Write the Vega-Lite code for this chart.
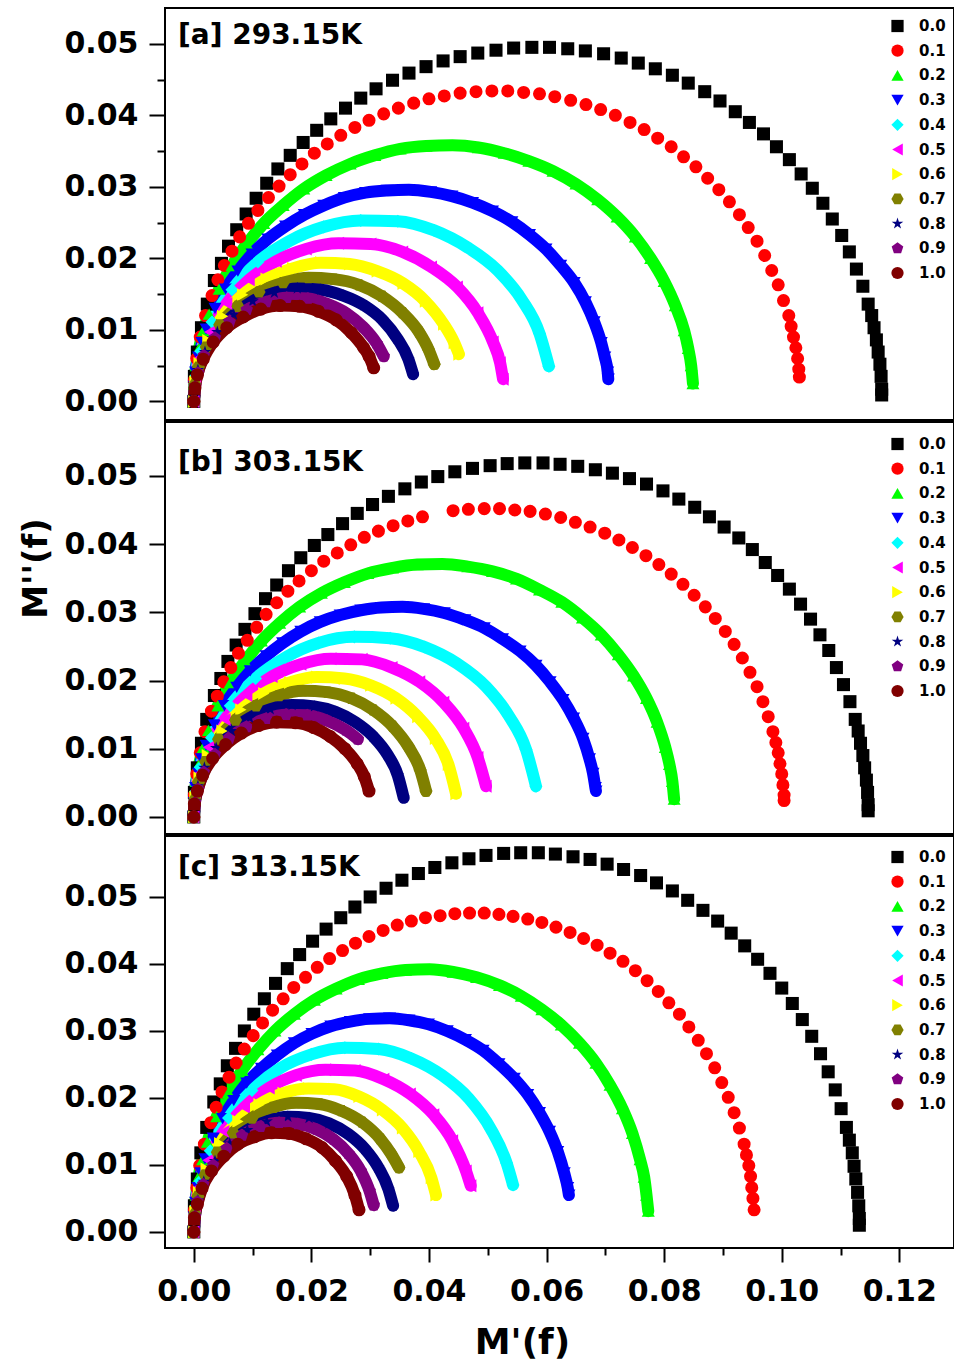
{
"$schema":"https://vega.github.io/schema/vega-lite/v6.json",
"padding":{"left":18,"top":7,"right":0,"bottom":0},
"background":"white",
"config":{"view":{"stroke":"black","strokeWidth":2},
"axis":{"domain":false,"grid":false,"tickColor":"black","tickWidth":2,"labelFont":"DejaVu Sans","labelFontSize":30,"labelFontWeight":"bold","labelColor":"black","labelOverlap":false,"labelFlush":false,"labelBound":false,"titleFont":"DejaVu Sans","titleFontWeight":"bold","titleColor":"black"},
"legend":{"padding":0,"symbolSize":150,"symbolStrokeWidth":0,"symbolOpacity":1,"labelFont":"DejaVu Sans","labelFontSize":15,"labelFontWeight":"bold","labelColor":"black","labelOffset":14,"rowPadding":8.7}},
"datasets":{
"a":[
{"s":"0.0","x":0,"y":0},{"s":"0.0","x":0.0001,"y":0.0035},{"s":"0.0","x":0.0006,"y":0.0069},{"s":"0.0","x":0.0013,"y":0.0103},{"s":"0.0","x":0.0023,"y":0.0136},{"s":"0.0","x":0.0035,"y":0.0169},{"s":"0.0","x":0.0047,"y":0.0193},{"s":"0.0","x":0.0059,"y":0.0217},{"s":"0.0","x":0.0073,"y":0.024},{"s":"0.0","x":0.0089,"y":0.0262},{"s":"0.0","x":0.0106,"y":0.0284},{"s":"0.0","x":0.0124,"y":0.0305},{"s":"0.0","x":0.0143,"y":0.0325},{"s":"0.0","x":0.0164,"y":0.0344},{"s":"0.0","x":0.0186,"y":0.0362},{"s":"0.0","x":0.0209,"y":0.0379},{"s":"0.0","x":0.0233,"y":0.0395},{"s":"0.0","x":0.0258,"y":0.041},{"s":"0.0","x":0.0284,"y":0.0424},{"s":"0.0","x":0.031,"y":0.0437},{"s":"0.0","x":0.0338,"y":0.0449},{"s":"0.0","x":0.0366,"y":0.0459},{"s":"0.0","x":0.0395,"y":0.0468},{"s":"0.0","x":0.0424,"y":0.0476},{"s":"0.0","x":0.0453,"y":0.0482},{"s":"0.0","x":0.0483,"y":0.0487},{"s":"0.0","x":0.0514,"y":0.0491},{"s":"0.0","x":0.0544,"y":0.0494},{"s":"0.0","x":0.0575,"y":0.0495},{"s":"0.0","x":0.0605,"y":0.0495},{"s":"0.0","x":0.0636,"y":0.0493},{"s":"0.0","x":0.0666,"y":0.049},{"s":"0.0","x":0.0697,"y":0.0486},{"s":"0.0","x":0.0727,"y":0.048},{"s":"0.0","x":0.0756,"y":0.0473},{"s":"0.0","x":0.0785,"y":0.0465},{"s":"0.0","x":0.0814,"y":0.0456},{"s":"0.0","x":0.0841,"y":0.0445},{"s":"0.0","x":0.0869,"y":0.0433},{"s":"0.0","x":0.0895,"y":0.042},{"s":"0.0","x":0.0921,"y":0.0405},{"s":"0.0","x":0.0945,"y":0.039},{"s":"0.0","x":0.0969,"y":0.0374},{"s":"0.0","x":0.0991,"y":0.0356},{"s":"0.0","x":0.1013,"y":0.0338},{"s":"0.0","x":0.1033,"y":0.0318},{"s":"0.0","x":0.1052,"y":0.0298},{"s":"0.0","x":0.107,"y":0.0277},{"s":"0.0","x":0.1086,"y":0.0255},{"s":"0.0","x":0.1102,"y":0.0232},{"s":"0.0","x":0.1115,"y":0.0209},{"s":"0.0","x":0.1127,"y":0.0185},{"s":"0.0","x":0.1138,"y":0.0161},{"s":"0.0","x":0.1147,"y":0.0136},{"s":"0.0","x":0.1153,"y":0.012},{"s":"0.0","x":0.1157,"y":0.0103},{"s":"0.0","x":0.1161,"y":0.0086},{"s":"0.0","x":0.1164,"y":0.0069},{"s":"0.0","x":0.1167,"y":0.0052},{"s":"0.0","x":0.1169,"y":0.0035},{"s":"0.0","x":0.117,"y":0.0017},{"s":"0.0","x":0.117,"y":0.0009},
{"s":"0.1","x":0,"y":0},{"s":"0.1","x":0.0001,"y":0.003},{"s":"0.1","x":0.0005,"y":0.006},{"s":"0.1","x":0.0011,"y":0.009},{"s":"0.1","x":0.002,"y":0.012},{"s":"0.1","x":0.0031,"y":0.0148},{"s":"0.1","x":0.0041,"y":0.017},{"s":"0.1","x":0.0052,"y":0.019},{"s":"0.1","x":0.0065,"y":0.021},{"s":"0.1","x":0.0078,"y":0.023},{"s":"0.1","x":0.0093,"y":0.0249},{"s":"0.1","x":0.0109,"y":0.0267},{"s":"0.1","x":0.0127,"y":0.0285},{"s":"0.1","x":0.0145,"y":0.0301},{"s":"0.1","x":0.0164,"y":0.0317},{"s":"0.1","x":0.0184,"y":0.0332},{"s":"0.1","x":0.0205,"y":0.0347},{"s":"0.1","x":0.0227,"y":0.036},{"s":"0.1","x":0.025,"y":0.0372},{"s":"0.1","x":0.0274,"y":0.0383},{"s":"0.1","x":0.0298,"y":0.0393},{"s":"0.1","x":0.0323,"y":0.0402},{"s":"0.1","x":0.0348,"y":0.041},{"s":"0.1","x":0.0374,"y":0.0417},{"s":"0.1","x":0.04,"y":0.0423},{"s":"0.1","x":0.0426,"y":0.0427},{"s":"0.1","x":0.0453,"y":0.0431},{"s":"0.1","x":0.048,"y":0.0433},{"s":"0.1","x":0.0507,"y":0.0434},{"s":"0.1","x":0.0534,"y":0.0434},{"s":"0.1","x":0.0561,"y":0.0432},{"s":"0.1","x":0.0588,"y":0.043},{"s":"0.1","x":0.0614,"y":0.0426},{"s":"0.1","x":0.0641,"y":0.0421},{"s":"0.1","x":0.0667,"y":0.0415},{"s":"0.1","x":0.0692,"y":0.0408},{"s":"0.1","x":0.0717,"y":0.04},{"s":"0.1","x":0.0742,"y":0.039},{"s":"0.1","x":0.0766,"y":0.038},{"s":"0.1","x":0.0789,"y":0.0368},{"s":"0.1","x":0.0812,"y":0.0356},{"s":"0.1","x":0.0833,"y":0.0342},{"s":"0.1","x":0.0854,"y":0.0328},{"s":"0.1","x":0.0874,"y":0.0312},{"s":"0.1","x":0.0893,"y":0.0296},{"s":"0.1","x":0.0911,"y":0.0279},{"s":"0.1","x":0.0928,"y":0.0261},{"s":"0.1","x":0.0943,"y":0.0243},{"s":"0.1","x":0.0958,"y":0.0224},{"s":"0.1","x":0.0971,"y":0.0204},{"s":"0.1","x":0.0983,"y":0.0183},{"s":"0.1","x":0.0994,"y":0.0163},{"s":"0.1","x":0.1003,"y":0.0141},{"s":"0.1","x":0.1012,"y":0.012},{"s":"0.1","x":0.1016,"y":0.0105},{"s":"0.1","x":0.102,"y":0.009},{"s":"0.1","x":0.1024,"y":0.0075},{"s":"0.1","x":0.1027,"y":0.006},{"s":"0.1","x":0.1029,"y":0.0045},{"s":"0.1","x":0.103,"y":0.0034},
{"s":"0.2","x":0,"y":0},{"s":"0.2","x":0.0001,"y":0.0025},{"s":"0.2","x":0.0004,"y":0.005},{"s":"0.2","x":0.0009,"y":0.0074},{"s":"0.2","x":0.0016,"y":0.0099},{"s":"0.2","x":0.0026,"y":0.0122},{"s":"0.2","x":0.0043,"y":0.0157},{"s":"0.2","x":0.0065,"y":0.019},{"s":"0.2","x":0.009,"y":0.022},{"s":"0.2","x":0.0119,"y":0.0249},{"s":"0.2","x":0.0152,"y":0.0274},{"s":"0.2","x":0.0187,"y":0.0297},{"s":"0.2","x":0.0225,"y":0.0316},{"s":"0.2","x":0.0266,"y":0.0332},{"s":"0.2","x":0.0308,"y":0.0344},{"s":"0.2","x":0.0351,"y":0.0353},{"s":"0.2","x":0.0395,"y":0.0357},{"s":"0.2","x":0.044,"y":0.0358},{"s":"0.2","x":0.0484,"y":0.0355},{"s":"0.2","x":0.0528,"y":0.0347},{"s":"0.2","x":0.057,"y":0.0336},{"s":"0.2","x":0.0611,"y":0.0322},{"s":"0.2","x":0.065,"y":0.0304},{"s":"0.2","x":0.0687,"y":0.0282},{"s":"0.2","x":0.072,"y":0.0258},{"s":"0.2","x":0.0751,"y":0.023},{"s":"0.2","x":0.0777,"y":0.02},{"s":"0.2","x":0.08,"y":0.0168},{"s":"0.2","x":0.0819,"y":0.0134},{"s":"0.2","x":0.0834,"y":0.0099},{"s":"0.2","x":0.0841,"y":0.0074},{"s":"0.2","x":0.0846,"y":0.005},{"s":"0.2","x":0.0849,"y":0.0025},
{"s":"0.3","x":0,"y":0},{"s":"0.3","x":0.0001,"y":0.0021},{"s":"0.3","x":0.0003,"y":0.0041},{"s":"0.3","x":0.0008,"y":0.0062},{"s":"0.3","x":0.0014,"y":0.0082},{"s":"0.3","x":0.0021,"y":0.0101},{"s":"0.3","x":0.0036,"y":0.013},{"s":"0.3","x":0.0054,"y":0.0157},{"s":"0.3","x":0.0075,"y":0.0182},{"s":"0.3","x":0.0099,"y":0.0206},{"s":"0.3","x":0.0126,"y":0.0227},{"s":"0.3","x":0.0156,"y":0.0245},{"s":"0.3","x":0.0188,"y":0.0261},{"s":"0.3","x":0.0221,"y":0.0274},{"s":"0.3","x":0.0256,"y":0.0285},{"s":"0.3","x":0.0292,"y":0.0292},{"s":"0.3","x":0.0329,"y":0.0295},{"s":"0.3","x":0.0366,"y":0.0296},{"s":"0.3","x":0.0403,"y":0.0293},{"s":"0.3","x":0.0439,"y":0.0287},{"s":"0.3","x":0.0474,"y":0.0278},{"s":"0.3","x":0.0508,"y":0.0266},{"s":"0.3","x":0.0541,"y":0.0251},{"s":"0.3","x":0.0571,"y":0.0233},{"s":"0.3","x":0.0599,"y":0.0213},{"s":"0.3","x":0.0624,"y":0.019},{"s":"0.3","x":0.0647,"y":0.0166},{"s":"0.3","x":0.0666,"y":0.0139},{"s":"0.3","x":0.0681,"y":0.0111},{"s":"0.3","x":0.0693,"y":0.0082},{"s":"0.3","x":0.0699,"y":0.0062},{"s":"0.3","x":0.0704,"y":0.0041},{"s":"0.3","x":0.0705,"y":0.0031},
{"s":"0.4","x":0,"y":0},{"s":"0.4","x":0.0003,"y":0.0035},{"s":"0.4","x":0.0012,"y":0.007},{"s":"0.4","x":0.0031,"y":0.0111},{"s":"0.4","x":0.0065,"y":0.0156},{"s":"0.4","x":0.0109,"y":0.0195},{"s":"0.4","x":0.0162,"y":0.0224},{"s":"0.4","x":0.0221,"y":0.0244},{"s":"0.4","x":0.0284,"y":0.0253},{"s":"0.4","x":0.0347,"y":0.0252},{"s":"0.4","x":0.0409,"y":0.0239},{"s":"0.4","x":0.0466,"y":0.0215},{"s":"0.4","x":0.0517,"y":0.0183},{"s":"0.4","x":0.0558,"y":0.0142},{"s":"0.4","x":0.0588,"y":0.0095},{"s":"0.4","x":0.0604,"y":0.0049},
{"s":"0.5","x":0,"y":0},{"s":"0.5","x":0.0003,"y":0.0031},{"s":"0.5","x":0.001,"y":0.0061},{"s":"0.5","x":0.0027,"y":0.0097},{"s":"0.5","x":0.0056,"y":0.0137},{"s":"0.5","x":0.0094,"y":0.017},{"s":"0.5","x":0.014,"y":0.0196},{"s":"0.5","x":0.0191,"y":0.0213},{"s":"0.5","x":0.0246,"y":0.0221},{"s":"0.5","x":0.0301,"y":0.022},{"s":"0.5","x":0.0355,"y":0.0209},{"s":"0.5","x":0.0404,"y":0.0188},{"s":"0.5","x":0.0448,"y":0.016},{"s":"0.5","x":0.0483,"y":0.0124},{"s":"0.5","x":0.0509,"y":0.0083},{"s":"0.5","x":0.0521,"y":0.0054},{"s":"0.5","x":0.0526,"y":0.0031},
{"s":"0.6","x":0,"y":0},{"s":"0.6","x":0.0002,"y":0.0027},{"s":"0.6","x":0.0009,"y":0.0053},{"s":"0.6","x":0.0024,"y":0.0085},{"s":"0.6","x":0.0049,"y":0.0119},{"s":"0.6","x":0.0083,"y":0.0149},{"s":"0.6","x":0.0123,"y":0.0171},{"s":"0.6","x":0.0168,"y":0.0186},{"s":"0.6","x":0.0216,"y":0.0194},{"s":"0.6","x":0.0265,"y":0.0192},{"s":"0.6","x":0.0312,"y":0.0182},{"s":"0.6","x":0.0356,"y":0.0165},{"s":"0.6","x":0.0394,"y":0.014},{"s":"0.6","x":0.0425,"y":0.0108},{"s":"0.6","x":0.0443,"y":0.0082},{"s":"0.6","x":0.0451,"y":0.0066},
{"s":"0.7","x":0,"y":0},{"s":"0.7","x":0.0002,"y":0.0024},{"s":"0.7","x":0.0008,"y":0.0048},{"s":"0.7","x":0.0021,"y":0.0076},{"s":"0.7","x":0.0044,"y":0.0107},{"s":"0.7","x":0.0075,"y":0.0133},{"s":"0.7","x":0.0111,"y":0.0153},{"s":"0.7","x":0.0152,"y":0.0166},{"s":"0.7","x":0.0195,"y":0.0173},{"s":"0.7","x":0.0238,"y":0.0171},{"s":"0.7","x":0.0281,"y":0.0163},{"s":"0.7","x":0.032,"y":0.0147},{"s":"0.7","x":0.0355,"y":0.0124},{"s":"0.7","x":0.0383,"y":0.0097},{"s":"0.7","x":0.0399,"y":0.0073},{"s":"0.7","x":0.0409,"y":0.0052},
{"s":"0.8","x":0,"y":0},{"s":"0.8","x":0.0002,"y":0.0022},{"s":"0.8","x":0.0007,"y":0.0044},{"s":"0.8","x":0.0019,"y":0.0069},{"s":"0.8","x":0.004,"y":0.0097},{"s":"0.8","x":0.0068,"y":0.0121},{"s":"0.8","x":0.01,"y":0.014},{"s":"0.8","x":0.0137,"y":0.0152},{"s":"0.8","x":0.0176,"y":0.0158},{"s":"0.8","x":0.0216,"y":0.0156},{"s":"0.8","x":0.0254,"y":0.0148},{"s":"0.8","x":0.029,"y":0.0134},{"s":"0.8","x":0.0321,"y":0.0114},{"s":"0.8","x":0.0346,"y":0.0088},{"s":"0.8","x":0.0365,"y":0.0059},{"s":"0.8","x":0.0373,"y":0.0038},
{"s":"0.9","x":0,"y":0},{"s":"0.9","x":0.0002,"y":0.002},{"s":"0.9","x":0.0007,"y":0.004},{"s":"0.9","x":0.0017,"y":0.0064},{"s":"0.9","x":0.0036,"y":0.0089},{"s":"0.9","x":0.0061,"y":0.0111},{"s":"0.9","x":0.009,"y":0.0128},{"s":"0.9","x":0.0123,"y":0.0139},{"s":"0.9","x":0.0158,"y":0.0145},{"s":"0.9","x":0.0194,"y":0.0144},{"s":"0.9","x":0.0228,"y":0.0136},{"s":"0.9","x":0.026,"y":0.0123},{"s":"0.9","x":0.0288,"y":0.0104},{"s":"0.9","x":0.0311,"y":0.0081},{"s":"0.9","x":0.0323,"y":0.0063},
{"s":"1.0","x":0,"y":0},{"s":"1.0","x":0.0002,"y":0.0019},{"s":"1.0","x":0.0006,"y":0.0037},{"s":"1.0","x":0.0016,"y":0.0059},{"s":"1.0","x":0.0033,"y":0.0083},{"s":"1.0","x":0.0056,"y":0.0103},{"s":"1.0","x":0.0084,"y":0.0118},{"s":"1.0","x":0.0114,"y":0.0129},{"s":"1.0","x":0.0147,"y":0.0134},{"s":"1.0","x":0.018,"y":0.0133},{"s":"1.0","x":0.0212,"y":0.0126},{"s":"1.0","x":0.0242,"y":0.0114},{"s":"1.0","x":0.0268,"y":0.0096},{"s":"1.0","x":0.0289,"y":0.0075},{"s":"1.0","x":0.0298,"y":0.0063},{"s":"1.0","x":0.0306,"y":0.0047}
],
"b":[
{"s":"0.0","x":0,"y":0},{"s":"0.0","x":0.0001,"y":0.0036},{"s":"0.0","x":0.0006,"y":0.0072},{"s":"0.0","x":0.0013,"y":0.0108},{"s":"0.0","x":0.0022,"y":0.0143},{"s":"0.0","x":0.0035,"y":0.0178},{"s":"0.0","x":0.0046,"y":0.0203},{"s":"0.0","x":0.0058,"y":0.0228},{"s":"0.0","x":0.0072,"y":0.0252},{"s":"0.0","x":0.0087,"y":0.0275},{"s":"0.0","x":0.0104,"y":0.0298},{"s":"0.0","x":0.0122,"y":0.032},{"s":"0.0","x":0.0141,"y":0.034},{"s":"0.0","x":0.0161,"y":0.0361},{"s":"0.0","x":0.0182,"y":0.038},{"s":"0.0","x":0.0205,"y":0.0398},{"s":"0.0","x":0.0228,"y":0.0414},{"s":"0.0","x":0.0253,"y":0.043},{"s":"0.0","x":0.0278,"y":0.0445},{"s":"0.0","x":0.0304,"y":0.0458},{"s":"0.0","x":0.0331,"y":0.047},{"s":"0.0","x":0.0359,"y":0.0481},{"s":"0.0","x":0.0387,"y":0.0491},{"s":"0.0","x":0.0415,"y":0.0499},{"s":"0.0","x":0.0444,"y":0.0506},{"s":"0.0","x":0.0474,"y":0.0511},{"s":"0.0","x":0.0504,"y":0.0515},{"s":"0.0","x":0.0533,"y":0.0518},{"s":"0.0","x":0.0563,"y":0.0519},{"s":"0.0","x":0.0594,"y":0.0519},{"s":"0.0","x":0.0623,"y":0.0517},{"s":"0.0","x":0.0653,"y":0.0514},{"s":"0.0","x":0.0683,"y":0.0509},{"s":"0.0","x":0.0712,"y":0.0504},{"s":"0.0","x":0.0741,"y":0.0496},{"s":"0.0","x":0.077,"y":0.0488},{"s":"0.0","x":0.0798,"y":0.0478},{"s":"0.0","x":0.0825,"y":0.0466},{"s":"0.0","x":0.0852,"y":0.0454},{"s":"0.0","x":0.0877,"y":0.044},{"s":"0.0","x":0.0902,"y":0.0425},{"s":"0.0","x":0.0927,"y":0.0409},{"s":"0.0","x":0.095,"y":0.0392},{"s":"0.0","x":0.0972,"y":0.0373},{"s":"0.0","x":0.0993,"y":0.0354},{"s":"0.0","x":0.1013,"y":0.0334},{"s":"0.0","x":0.1032,"y":0.0312},{"s":"0.0","x":0.1049,"y":0.029},{"s":"0.0","x":0.1065,"y":0.0267},{"s":"0.0","x":0.108,"y":0.0244},{"s":"0.0","x":0.1093,"y":0.0219},{"s":"0.0","x":0.1105,"y":0.0194},{"s":"0.0","x":0.1116,"y":0.0169},{"s":"0.0","x":0.1125,"y":0.0143},{"s":"0.0","x":0.113,"y":0.0126},{"s":"0.0","x":0.1134,"y":0.0108},{"s":"0.0","x":0.1138,"y":0.009},{"s":"0.0","x":0.1141,"y":0.0072},{"s":"0.0","x":0.1144,"y":0.0054},{"s":"0.0","x":0.1146,"y":0.0036},{"s":"0.0","x":0.1147,"y":0.0018},{"s":"0.0","x":0.1147,"y":0.0009},
{"s":"0.1","x":0,"y":0},{"s":"0.1","x":0.0001,"y":0.0032},{"s":"0.1","x":0.0005,"y":0.0063},{"s":"0.1","x":0.0011,"y":0.0094},{"s":"0.1","x":0.0019,"y":0.0125},{"s":"0.1","x":0.003,"y":0.0155},{"s":"0.1","x":0.004,"y":0.0177},{"s":"0.1","x":0.0051,"y":0.0198},{"s":"0.1","x":0.0063,"y":0.0219},{"s":"0.1","x":0.0076,"y":0.024},{"s":"0.1","x":0.0091,"y":0.0259},{"s":"0.1","x":0.0107,"y":0.0278},{"s":"0.1","x":0.0123,"y":0.0297},{"s":"0.1","x":0.0141,"y":0.0314},{"s":"0.1","x":0.016,"y":0.0331},{"s":"0.1","x":0.0179,"y":0.0346},{"s":"0.1","x":0.02,"y":0.0361},{"s":"0.1","x":0.0221,"y":0.0375},{"s":"0.1","x":0.0244,"y":0.0387},{"s":"0.1","x":0.0267,"y":0.0399},{"s":"0.1","x":0.029,"y":0.041},{"s":"0.1","x":0.0314,"y":0.0419},{"s":"0.1","x":0.0339,"y":0.0427},{"s":"0.1","x":0.0364,"y":0.0434},{"s":"0.1","x":0.0389,"y":0.044},{"s":"0.1","x":0.0441,"y":0.0449},{"s":"0.1","x":0.0467,"y":0.0451},{"s":"0.1","x":0.0494,"y":0.0452},{"s":"0.1","x":0.052,"y":0.0452},{"s":"0.1","x":0.0546,"y":0.045},{"s":"0.1","x":0.0572,"y":0.0448},{"s":"0.1","x":0.0598,"y":0.0444},{"s":"0.1","x":0.0624,"y":0.0439},{"s":"0.1","x":0.0649,"y":0.0432},{"s":"0.1","x":0.0674,"y":0.0425},{"s":"0.1","x":0.0699,"y":0.0416},{"s":"0.1","x":0.0723,"y":0.0406},{"s":"0.1","x":0.0746,"y":0.0395},{"s":"0.1","x":0.0769,"y":0.0383},{"s":"0.1","x":0.0791,"y":0.037},{"s":"0.1","x":0.0812,"y":0.0356},{"s":"0.1","x":0.0832,"y":0.0341},{"s":"0.1","x":0.0851,"y":0.0325},{"s":"0.1","x":0.087,"y":0.0308},{"s":"0.1","x":0.0887,"y":0.0291},{"s":"0.1","x":0.0904,"y":0.0272},{"s":"0.1","x":0.0919,"y":0.0253},{"s":"0.1","x":0.0933,"y":0.0233},{"s":"0.1","x":0.0946,"y":0.0212},{"s":"0.1","x":0.0958,"y":0.0191},{"s":"0.1","x":0.0968,"y":0.0169},{"s":"0.1","x":0.0977,"y":0.0147},{"s":"0.1","x":0.0985,"y":0.0125},{"s":"0.1","x":0.099,"y":0.0109},{"s":"0.1","x":0.0994,"y":0.0094},{"s":"0.1","x":0.0997,"y":0.0078},{"s":"0.1","x":0.1,"y":0.0063},{"s":"0.1","x":0.1002,"y":0.0047},{"s":"0.1","x":0.1004,"y":0.0032},{"s":"0.1","x":0.1004,"y":0.0024},
{"s":"0.2","x":0,"y":0},{"s":"0.2","x":0.0001,"y":0.0026},{"s":"0.2","x":0.0004,"y":0.0052},{"s":"0.2","x":0.0009,"y":0.0077},{"s":"0.2","x":0.0016,"y":0.0102},{"s":"0.2","x":0.0025,"y":0.0127},{"s":"0.2","x":0.0041,"y":0.0163},{"s":"0.2","x":0.0062,"y":0.0197},{"s":"0.2","x":0.0087,"y":0.0228},{"s":"0.2","x":0.0115,"y":0.0258},{"s":"0.2","x":0.0146,"y":0.0284},{"s":"0.2","x":0.018,"y":0.0308},{"s":"0.2","x":0.0217,"y":0.0328},{"s":"0.2","x":0.0256,"y":0.0344},{"s":"0.2","x":0.0296,"y":0.0357},{"s":"0.2","x":0.0338,"y":0.0365},{"s":"0.2","x":0.038,"y":0.037},{"s":"0.2","x":0.0423,"y":0.0371},{"s":"0.2","x":0.0466,"y":0.0367},{"s":"0.2","x":0.0508,"y":0.036},{"s":"0.2","x":0.0549,"y":0.0349},{"s":"0.2","x":0.0588,"y":0.0333},{"s":"0.2","x":0.0626,"y":0.0315},{"s":"0.2","x":0.0661,"y":0.0292},{"s":"0.2","x":0.0693,"y":0.0267},{"s":"0.2","x":0.0722,"y":0.0238},{"s":"0.2","x":0.0748,"y":0.0207},{"s":"0.2","x":0.077,"y":0.0174},{"s":"0.2","x":0.0788,"y":0.0139},{"s":"0.2","x":0.0802,"y":0.0102},{"s":"0.2","x":0.0809,"y":0.0077},{"s":"0.2","x":0.0814,"y":0.0052},{"s":"0.2","x":0.0817,"y":0.0026},
{"s":"0.3","x":0,"y":0},{"s":"0.3","x":0.0001,"y":0.0021},{"s":"0.3","x":0.0003,"y":0.0043},{"s":"0.3","x":0.0008,"y":0.0064},{"s":"0.3","x":0.0013,"y":0.0085},{"s":"0.3","x":0.0021,"y":0.0105},{"s":"0.3","x":0.0035,"y":0.0135},{"s":"0.3","x":0.0052,"y":0.0163},{"s":"0.3","x":0.0073,"y":0.019},{"s":"0.3","x":0.0096,"y":0.0214},{"s":"0.3","x":0.0123,"y":0.0236},{"s":"0.3","x":0.0151,"y":0.0255},{"s":"0.3","x":0.0182,"y":0.0272},{"s":"0.3","x":0.0215,"y":0.0286},{"s":"0.3","x":0.0249,"y":0.0296},{"s":"0.3","x":0.0284,"y":0.0303},{"s":"0.3","x":0.0319,"y":0.0307},{"s":"0.3","x":0.0355,"y":0.0308},{"s":"0.3","x":0.0391,"y":0.0305},{"s":"0.3","x":0.0426,"y":0.0299},{"s":"0.3","x":0.0461,"y":0.0289},{"s":"0.3","x":0.0494,"y":0.0277},{"s":"0.3","x":0.0525,"y":0.0261},{"s":"0.3","x":0.0555,"y":0.0243},{"s":"0.3","x":0.0582,"y":0.0222},{"s":"0.3","x":0.0606,"y":0.0198},{"s":"0.3","x":0.0628,"y":0.0172},{"s":"0.3","x":0.0646,"y":0.0145},{"s":"0.3","x":0.0662,"y":0.0115},{"s":"0.3","x":0.0673,"y":0.0085},{"s":"0.3","x":0.0679,"y":0.0064},{"s":"0.3","x":0.0683,"y":0.0043},{"s":"0.3","x":0.0684,"y":0.0038},
{"s":"0.4","x":0,"y":0},{"s":"0.4","x":0.0003,"y":0.0037},{"s":"0.4","x":0.0011,"y":0.0073},{"s":"0.4","x":0.003,"y":0.0116},{"s":"0.4","x":0.0062,"y":0.0163},{"s":"0.4","x":0.0105,"y":0.0203},{"s":"0.4","x":0.0156,"y":0.0234},{"s":"0.4","x":0.0212,"y":0.0255},{"s":"0.4","x":0.0273,"y":0.0264},{"s":"0.4","x":0.0334,"y":0.0262},{"s":"0.4","x":0.0393,"y":0.0249},{"s":"0.4","x":0.0448,"y":0.0225},{"s":"0.4","x":0.0497,"y":0.0191},{"s":"0.4","x":0.0536,"y":0.0148},{"s":"0.4","x":0.0565,"y":0.0099},{"s":"0.4","x":0.0582,"y":0.0045},
{"s":"0.5","x":0,"y":0},{"s":"0.5","x":0.0002,"y":0.0032},{"s":"0.5","x":0.001,"y":0.0064},{"s":"0.5","x":0.0025,"y":0.0102},{"s":"0.5","x":0.0053,"y":0.0143},{"s":"0.5","x":0.009,"y":0.0178},{"s":"0.5","x":0.0133,"y":0.0206},{"s":"0.5","x":0.0182,"y":0.0224},{"s":"0.5","x":0.0233,"y":0.0232},{"s":"0.5","x":0.0286,"y":0.0231},{"s":"0.5","x":0.0337,"y":0.0219},{"s":"0.5","x":0.0384,"y":0.0198},{"s":"0.5","x":0.0425,"y":0.0168},{"s":"0.5","x":0.0459,"y":0.013},{"s":"0.5","x":0.0483,"y":0.0087},{"s":"0.5","x":0.0497,"y":0.0045},
{"s":"0.6","x":0,"y":0},{"s":"0.6","x":0.0002,"y":0.0029},{"s":"0.6","x":0.0009,"y":0.0057},{"s":"0.6","x":0.0023,"y":0.009},{"s":"0.6","x":0.0048,"y":0.0126},{"s":"0.6","x":0.008,"y":0.0157},{"s":"0.6","x":0.0119,"y":0.0181},{"s":"0.6","x":0.0163,"y":0.0197},{"s":"0.6","x":0.0209,"y":0.0205},{"s":"0.6","x":0.0256,"y":0.0203},{"s":"0.6","x":0.0301,"y":0.0193},{"s":"0.6","x":0.0344,"y":0.0174},{"s":"0.6","x":0.0381,"y":0.0147},{"s":"0.6","x":0.0411,"y":0.0115},{"s":"0.6","x":0.0433,"y":0.0077},{"s":"0.6","x":0.0446,"y":0.0034},
{"s":"0.7","x":0,"y":0},{"s":"0.7","x":0.0002,"y":0.0026},{"s":"0.7","x":0.0008,"y":0.0051},{"s":"0.7","x":0.002,"y":0.0081},{"s":"0.7","x":0.0042,"y":0.0114},{"s":"0.7","x":0.0071,"y":0.0142},{"s":"0.7","x":0.0106,"y":0.0163},{"s":"0.7","x":0.0145,"y":0.0178},{"s":"0.7","x":0.0186,"y":0.0185},{"s":"0.7","x":0.0227,"y":0.0183},{"s":"0.7","x":0.0268,"y":0.0174},{"s":"0.7","x":0.0305,"y":0.0157},{"s":"0.7","x":0.0338,"y":0.0133},{"s":"0.7","x":0.0365,"y":0.0103},{"s":"0.7","x":0.0385,"y":0.0069},{"s":"0.7","x":0.0395,"y":0.0038},
{"s":"0.8","x":0,"y":0},{"s":"0.8","x":0.0002,"y":0.0023},{"s":"0.8","x":0.0007,"y":0.0045},{"s":"0.8","x":0.0018,"y":0.0072},{"s":"0.8","x":0.0038,"y":0.0101},{"s":"0.8","x":0.0064,"y":0.0126},{"s":"0.8","x":0.0095,"y":0.0145},{"s":"0.8","x":0.013,"y":0.0158},{"s":"0.8","x":0.0167,"y":0.0164},{"s":"0.8","x":0.0205,"y":0.0162},{"s":"0.8","x":0.0241,"y":0.0154},{"s":"0.8","x":0.0275,"y":0.0139},{"s":"0.8","x":0.0305,"y":0.0118},{"s":"0.8","x":0.0329,"y":0.0092},{"s":"0.8","x":0.0347,"y":0.0061},{"s":"0.8","x":0.0357,"y":0.0028},
{"s":"0.9","x":0,"y":0},{"s":"0.9","x":0.0002,"y":0.0021},{"s":"0.9","x":0.0007,"y":0.0041},{"s":"0.9","x":0.0017,"y":0.0066},{"s":"0.9","x":0.0036,"y":0.0092},{"s":"0.9","x":0.006,"y":0.0115},{"s":"0.9","x":0.009,"y":0.0132},{"s":"0.9","x":0.0123,"y":0.0144},{"s":"0.9","x":0.0157,"y":0.015},{"s":"0.9","x":0.0193,"y":0.0149},{"s":"0.9","x":0.0227,"y":0.0141},{"s":"0.9","x":0.0259,"y":0.0127},{"s":"0.9","x":0.0279,"y":0.0114},
{"s":"1.0","x":0,"y":0},{"s":"1.0","x":0.0001,"y":0.0019},{"s":"1.0","x":0.0006,"y":0.0038},{"s":"1.0","x":0.0015,"y":0.0061},{"s":"1.0","x":0.0032,"y":0.0086},{"s":"1.0","x":0.0054,"y":0.0106},{"s":"1.0","x":0.0081,"y":0.0123},{"s":"1.0","x":0.011,"y":0.0134},{"s":"1.0","x":0.0141,"y":0.0139},{"s":"1.0","x":0.0173,"y":0.0138},{"s":"1.0","x":0.0204,"y":0.0131},{"s":"1.0","x":0.0232,"y":0.0118},{"s":"1.0","x":0.0257,"y":0.01},{"s":"1.0","x":0.0278,"y":0.0078},{"s":"1.0","x":0.029,"y":0.0059},{"s":"1.0","x":0.0298,"y":0.0038}
],
"c":[
{"s":"0.0","x":0,"y":0},{"s":"0.0","x":0.0001,"y":0.0039},{"s":"0.0","x":0.0006,"y":0.0079},{"s":"0.0","x":0.0012,"y":0.0118},{"s":"0.0","x":0.0022,"y":0.0156},{"s":"0.0","x":0.0034,"y":0.0194},{"s":"0.0","x":0.0045,"y":0.0221},{"s":"0.0","x":0.0057,"y":0.0248},{"s":"0.0","x":0.0071,"y":0.0274},{"s":"0.0","x":0.0086,"y":0.03},{"s":"0.0","x":0.0102,"y":0.0325},{"s":"0.0","x":0.012,"y":0.0348},{"s":"0.0","x":0.0139,"y":0.0371},{"s":"0.0","x":0.0159,"y":0.0393},{"s":"0.0","x":0.018,"y":0.0414},{"s":"0.0","x":0.0202,"y":0.0434},{"s":"0.0","x":0.0225,"y":0.0452},{"s":"0.0","x":0.025,"y":0.0469},{"s":"0.0","x":0.0274,"y":0.0485},{"s":"0.0","x":0.03,"y":0.05},{"s":"0.0","x":0.0327,"y":0.0513},{"s":"0.0","x":0.0354,"y":0.0525},{"s":"0.0","x":0.0382,"y":0.0535},{"s":"0.0","x":0.041,"y":0.0544},{"s":"0.0","x":0.0439,"y":0.0551},{"s":"0.0","x":0.0468,"y":0.0557},{"s":"0.0","x":0.0497,"y":0.0562},{"s":"0.0","x":0.0527,"y":0.0565},{"s":"0.0","x":0.0556,"y":0.0566},{"s":"0.0","x":0.0586,"y":0.0566},{"s":"0.0","x":0.0615,"y":0.0564},{"s":"0.0","x":0.0645,"y":0.056},{"s":"0.0","x":0.0674,"y":0.0556},{"s":"0.0","x":0.0703,"y":0.0549},{"s":"0.0","x":0.0731,"y":0.0541},{"s":"0.0","x":0.076,"y":0.0532},{"s":"0.0","x":0.0787,"y":0.0521},{"s":"0.0","x":0.0814,"y":0.0509},{"s":"0.0","x":0.084,"y":0.0495},{"s":"0.0","x":0.0866,"y":0.048},{"s":"0.0","x":0.0891,"y":0.0464},{"s":"0.0","x":0.0914,"y":0.0446},{"s":"0.0","x":0.0937,"y":0.0427},{"s":"0.0","x":0.0959,"y":0.0407},{"s":"0.0","x":0.098,"y":0.0386},{"s":"0.0","x":0.1,"y":0.0364},{"s":"0.0","x":0.1018,"y":0.0341},{"s":"0.0","x":0.1035,"y":0.0317},{"s":"0.0","x":0.1051,"y":0.0292},{"s":"0.0","x":0.1066,"y":0.0266},{"s":"0.0","x":0.1079,"y":0.0239},{"s":"0.0","x":0.1091,"y":0.0212},{"s":"0.0","x":0.1101,"y":0.0184},{"s":"0.0","x":0.111,"y":0.0156},{"s":"0.0","x":0.1115,"y":0.0137},{"s":"0.0","x":0.112,"y":0.0118},{"s":"0.0","x":0.1123,"y":0.0098},{"s":"0.0","x":0.1126,"y":0.0079},{"s":"0.0","x":0.1129,"y":0.0059},{"s":"0.0","x":0.1131,"y":0.0039},{"s":"0.0","x":0.1132,"y":0.002},{"s":"0.0","x":0.1132,"y":0.001},
{"s":"0.1","x":0,"y":0},{"s":"0.1","x":0.0001,"y":0.0033},{"s":"0.1","x":0.0005,"y":0.0066},{"s":"0.1","x":0.001,"y":0.0099},{"s":"0.1","x":0.0018,"y":0.0131},{"s":"0.1","x":0.0029,"y":0.0163},{"s":"0.1","x":0.0038,"y":0.0186},{"s":"0.1","x":0.0048,"y":0.0209},{"s":"0.1","x":0.006,"y":0.0231},{"s":"0.1","x":0.0072,"y":0.0252},{"s":"0.1","x":0.0086,"y":0.0273},{"s":"0.1","x":0.0101,"y":0.0293},{"s":"0.1","x":0.0117,"y":0.0312},{"s":"0.1","x":0.0134,"y":0.0331},{"s":"0.1","x":0.0152,"y":0.0348},{"s":"0.1","x":0.017,"y":0.0365},{"s":"0.1","x":0.019,"y":0.038},{"s":"0.1","x":0.021,"y":0.0395},{"s":"0.1","x":0.0231,"y":0.0408},{"s":"0.1","x":0.0253,"y":0.042},{"s":"0.1","x":0.0275,"y":0.0431},{"s":"0.1","x":0.0298,"y":0.0441},{"s":"0.1","x":0.0322,"y":0.045},{"s":"0.1","x":0.0346,"y":0.0458},{"s":"0.1","x":0.037,"y":0.0464},{"s":"0.1","x":0.0394,"y":0.0469},{"s":"0.1","x":0.0419,"y":0.0472},{"s":"0.1","x":0.0444,"y":0.0475},{"s":"0.1","x":0.0469,"y":0.0476},{"s":"0.1","x":0.0494,"y":0.0476},{"s":"0.1","x":0.0519,"y":0.0474},{"s":"0.1","x":0.0543,"y":0.0471},{"s":"0.1","x":0.0568,"y":0.0467},{"s":"0.1","x":0.0592,"y":0.0462},{"s":"0.1","x":0.0616,"y":0.0455},{"s":"0.1","x":0.064,"y":0.0447},{"s":"0.1","x":0.0663,"y":0.0438},{"s":"0.1","x":0.0686,"y":0.0428},{"s":"0.1","x":0.0708,"y":0.0416},{"s":"0.1","x":0.073,"y":0.0404},{"s":"0.1","x":0.0751,"y":0.039},{"s":"0.1","x":0.0771,"y":0.0375},{"s":"0.1","x":0.079,"y":0.0359},{"s":"0.1","x":0.0808,"y":0.0342},{"s":"0.1","x":0.0826,"y":0.0325},{"s":"0.1","x":0.0842,"y":0.0306},{"s":"0.1","x":0.0858,"y":0.0286},{"s":"0.1","x":0.0872,"y":0.0266},{"s":"0.1","x":0.0886,"y":0.0245},{"s":"0.1","x":0.0898,"y":0.0223},{"s":"0.1","x":0.0909,"y":0.0201},{"s":"0.1","x":0.0919,"y":0.0178},{"s":"0.1","x":0.0928,"y":0.0155},{"s":"0.1","x":0.0936,"y":0.0131},{"s":"0.1","x":0.094,"y":0.0115},{"s":"0.1","x":0.0944,"y":0.0099},{"s":"0.1","x":0.0947,"y":0.0083},{"s":"0.1","x":0.0949,"y":0.0066},{"s":"0.1","x":0.0951,"y":0.005},{"s":"0.1","x":0.0953,"y":0.0033},
{"s":"0.2","x":0,"y":0},{"s":"0.2","x":0.0001,"y":0.0027},{"s":"0.2","x":0.0004,"y":0.0055},{"s":"0.2","x":0.0008,"y":0.0082},{"s":"0.2","x":0.0015,"y":0.0108},{"s":"0.2","x":0.0023,"y":0.0134},{"s":"0.2","x":0.0039,"y":0.0172},{"s":"0.2","x":0.0059,"y":0.0208},{"s":"0.2","x":0.0082,"y":0.0241},{"s":"0.2","x":0.0109,"y":0.0272},{"s":"0.2","x":0.0138,"y":0.03},{"s":"0.2","x":0.0171,"y":0.0325},{"s":"0.2","x":0.0205,"y":0.0346},{"s":"0.2","x":0.0242,"y":0.0363},{"s":"0.2","x":0.028,"y":0.0377},{"s":"0.2","x":0.032,"y":0.0386},{"s":"0.2","x":0.036,"y":0.0391},{"s":"0.2","x":0.0401,"y":0.0392},{"s":"0.2","x":0.0441,"y":0.0388},{"s":"0.2","x":0.0481,"y":0.038},{"s":"0.2","x":0.052,"y":0.0368},{"s":"0.2","x":0.0557,"y":0.0352},{"s":"0.2","x":0.0592,"y":0.0332},{"s":"0.2","x":0.0625,"y":0.0309},{"s":"0.2","x":0.0656,"y":0.0282},{"s":"0.2","x":0.0684,"y":0.0252},{"s":"0.2","x":0.0708,"y":0.0219},{"s":"0.2","x":0.0729,"y":0.0184},{"s":"0.2","x":0.0746,"y":0.0147},{"s":"0.2","x":0.0759,"y":0.0108},{"s":"0.2","x":0.0766,"y":0.0082},{"s":"0.2","x":0.077,"y":0.0055},{"s":"0.2","x":0.0773,"y":0.0031},
{"s":"0.3","x":0,"y":0},{"s":"0.3","x":0.0001,"y":0.0022},{"s":"0.3","x":0.0003,"y":0.0044},{"s":"0.3","x":0.0007,"y":0.0066},{"s":"0.3","x":0.0012,"y":0.0088},{"s":"0.3","x":0.0019,"y":0.0109},{"s":"0.3","x":0.0033,"y":0.014},{"s":"0.3","x":0.0049,"y":0.0169},{"s":"0.3","x":0.0068,"y":0.0196},{"s":"0.3","x":0.009,"y":0.0222},{"s":"0.3","x":0.0115,"y":0.0244},{"s":"0.3","x":0.0142,"y":0.0264},{"s":"0.3","x":0.0171,"y":0.0282},{"s":"0.3","x":0.0201,"y":0.0296},{"s":"0.3","x":0.0233,"y":0.0307},{"s":"0.3","x":0.0266,"y":0.0314},{"s":"0.3","x":0.0299,"y":0.0318},{"s":"0.3","x":0.0333,"y":0.0319},{"s":"0.3","x":0.0366,"y":0.0316},{"s":"0.3","x":0.0399,"y":0.031},{"s":"0.3","x":0.0431,"y":0.03},{"s":"0.3","x":0.0462,"y":0.0287},{"s":"0.3","x":0.0492,"y":0.0271},{"s":"0.3","x":0.0519,"y":0.0251},{"s":"0.3","x":0.0545,"y":0.0229},{"s":"0.3","x":0.0568,"y":0.0205},{"s":"0.3","x":0.0588,"y":0.0178},{"s":"0.3","x":0.0605,"y":0.015},{"s":"0.3","x":0.0619,"y":0.012},{"s":"0.3","x":0.063,"y":0.0088},{"s":"0.3","x":0.0636,"y":0.0066},{"s":"0.3","x":0.0638,"y":0.0055},
{"s":"0.4","x":0,"y":0},{"s":"0.4","x":0.0003,"y":0.0038},{"s":"0.4","x":0.0011,"y":0.0076},{"s":"0.4","x":0.0028,"y":0.0121},{"s":"0.4","x":0.0059,"y":0.017},{"s":"0.4","x":0.0099,"y":0.0211},{"s":"0.4","x":0.0146,"y":0.0244},{"s":"0.4","x":0.02,"y":0.0265},{"s":"0.4","x":0.0257,"y":0.0275},{"s":"0.4","x":0.0314,"y":0.0273},{"s":"0.4","x":0.037,"y":0.0259},{"s":"0.4","x":0.0422,"y":0.0234},{"s":"0.4","x":0.0468,"y":0.0199},{"s":"0.4","x":0.0505,"y":0.0154},{"s":"0.4","x":0.0532,"y":0.0103},{"s":"0.4","x":0.0543,"y":0.007},
{"s":"0.5","x":0,"y":0},{"s":"0.5","x":0.0002,"y":0.0034},{"s":"0.5","x":0.0009,"y":0.0067},{"s":"0.5","x":0.0024,"y":0.0107},{"s":"0.5","x":0.0051,"y":0.015},{"s":"0.5","x":0.0086,"y":0.0186},{"s":"0.5","x":0.0128,"y":0.0215},{"s":"0.5","x":0.0174,"y":0.0234},{"s":"0.5","x":0.0224,"y":0.0242},{"s":"0.5","x":0.0274,"y":0.0241},{"s":"0.5","x":0.0323,"y":0.0228},{"s":"0.5","x":0.0368,"y":0.0206},{"s":"0.5","x":0.0408,"y":0.0175},{"s":"0.5","x":0.044,"y":0.0136},{"s":"0.5","x":0.0463,"y":0.0091},{"s":"0.5","x":0.0471,"y":0.0069},
{"s":"0.6","x":0,"y":0},{"s":"0.6","x":0.0002,"y":0.003},{"s":"0.6","x":0.0008,"y":0.0059},{"s":"0.6","x":0.0021,"y":0.0094},{"s":"0.6","x":0.0044,"y":0.0132},{"s":"0.6","x":0.0075,"y":0.0165},{"s":"0.6","x":0.0111,"y":0.019},{"s":"0.6","x":0.0152,"y":0.0207},{"s":"0.6","x":0.0195,"y":0.0214},{"s":"0.6","x":0.0239,"y":0.0213},{"s":"0.6","x":0.0281,"y":0.0202},{"s":"0.6","x":0.0321,"y":0.0182},{"s":"0.6","x":0.0355,"y":0.0155},{"s":"0.6","x":0.0383,"y":0.012},{"s":"0.6","x":0.0404,"y":0.0081},{"s":"0.6","x":0.0412,"y":0.0055},
{"s":"0.7","x":0,"y":0},{"s":"0.7","x":0.0002,"y":0.0027},{"s":"0.7","x":0.0007,"y":0.0053},{"s":"0.7","x":0.0019,"y":0.0085},{"s":"0.7","x":0.004,"y":0.0119},{"s":"0.7","x":0.0067,"y":0.0148},{"s":"0.7","x":0.0099,"y":0.017},{"s":"0.7","x":0.0135,"y":0.0186},{"s":"0.7","x":0.0174,"y":0.0193},{"s":"0.7","x":0.0213,"y":0.0191},{"s":"0.7","x":0.0251,"y":0.0181},{"s":"0.7","x":0.0286,"y":0.0164},{"s":"0.7","x":0.0317,"y":0.0139},{"s":"0.7","x":0.0336,"y":0.0116},{"s":"0.7","x":0.0349,"y":0.0096},
{"s":"0.8","x":0,"y":0},{"s":"0.8","x":0.0002,"y":0.0024},{"s":"0.8","x":0.0007,"y":0.0047},{"s":"0.8","x":0.0017,"y":0.0075},{"s":"0.8","x":0.0036,"y":0.0106},{"s":"0.8","x":0.0061,"y":0.0132},{"s":"0.8","x":0.0091,"y":0.0152},{"s":"0.8","x":0.0124,"y":0.0165},{"s":"0.8","x":0.016,"y":0.0172},{"s":"0.8","x":0.0196,"y":0.017},{"s":"0.8","x":0.023,"y":0.0162},{"s":"0.8","x":0.0263,"y":0.0146},{"s":"0.8","x":0.0291,"y":0.0124},{"s":"0.8","x":0.0314,"y":0.0096},{"s":"0.8","x":0.0331,"y":0.0064},{"s":"0.8","x":0.0339,"y":0.0039},
{"s":"0.9","x":0,"y":0},{"s":"0.9","x":0.0002,"y":0.0023},{"s":"0.9","x":0.0006,"y":0.0045},{"s":"0.9","x":0.0016,"y":0.0071},{"s":"0.9","x":0.0033,"y":0.01},{"s":"0.9","x":0.0056,"y":0.0125},{"s":"0.9","x":0.0082,"y":0.0144},{"s":"0.9","x":0.0113,"y":0.0157},{"s":"0.9","x":0.0145,"y":0.0163},{"s":"0.9","x":0.0177,"y":0.0161},{"s":"0.9","x":0.0209,"y":0.0153},{"s":"0.9","x":0.0238,"y":0.0138},{"s":"0.9","x":0.0263,"y":0.0117},{"s":"0.9","x":0.0284,"y":0.0091},{"s":"0.9","x":0.0299,"y":0.0061},{"s":"0.9","x":0.0306,"y":0.004},
{"s":"1.0","x":0,"y":0},{"s":"1.0","x":0.0001,"y":0.0021},{"s":"1.0","x":0.0006,"y":0.0041},{"s":"1.0","x":0.0014,"y":0.0065},{"s":"1.0","x":0.003,"y":0.0091},{"s":"1.0","x":0.0051,"y":0.0113},{"s":"1.0","x":0.0075,"y":0.0131},{"s":"1.0","x":0.0103,"y":0.0142},{"s":"1.0","x":0.0132,"y":0.0148},{"s":"1.0","x":0.0162,"y":0.0147},{"s":"1.0","x":0.0191,"y":0.0139},{"s":"1.0","x":0.0218,"y":0.0126},{"s":"1.0","x":0.0241,"y":0.0106},{"s":"1.0","x":0.026,"y":0.0083},{"s":"1.0","x":0.0274,"y":0.0055},{"s":"1.0","x":0.0281,"y":0.0033}
]},
"spacing":0,
"resolve":{"scale":{"x":"independent","y":"independent","color":"independent","shape":"independent","stroke":"independent"},"axis":{"x":"independent","y":"independent"},"legend":{"color":"independent","shape":"independent"}},
"vconcat":[
{"width":789,"height":412,"data":{"name":"a"},
"layer":[
{"transform":[{"filter":"datum.s != '0.0' && datum.s != '0.1'"}],
"mark":{"type":"line","strokeWidth":12,"strokeCap":"round","strokeJoin":"round","interpolate":"monotone"},
"encoding":{"x":{"field":"x","type":"quantitative","scale":{"domain":[-0.0049,0.1293],"nice":false,"zero":false},"axis":null},
"y":{"field":"y","type":"quantitative","scale":{"domain":[-0.0026,0.055],"nice":false,"zero":false},"axis":{"title":null,"values":[0,0.005,0.01,0.015,0.02,0.025,0.03,0.035,0.04,0.045,0.05],"labelExpr":"round(datum.value*1000)%10==0 ? format(datum.value,'.2f') : ''","tickSize":{"condition":{"test":"round(datum.value*1000)%10==0","value":16},"value":8},"labelPadding":11}},
"stroke":{"field":"s","type":"nominal","legend":null,"scale":{"domain":["0.2","0.3","0.4","0.5","0.6","0.7","0.8","0.9","1.0"],"range":["#00ff00","#0000ff","#00ffff","#ff00ff","#ffff00","#808000","#000080","#800080","#800000"]}}}},
{"mark":{"type":"point","filled":true,"size":170,"opacity":1,"strokeWidth":0},
"encoding":{"x":{"field":"x","type":"quantitative"},"y":{"field":"y","type":"quantitative"},
"color":{"field":"s","type":"nominal","scale":{"domain":["0.0","0.1","0.2","0.3","0.4","0.5","0.6","0.7","0.8","0.9","1.0"],"range":["#000000","#ff0000","#00ff00","#0000ff","#00ffff","#ff00ff","#ffff00","#808000","#000080","#800080","#800000"]},"legend":{"title":null,"orient":"none","legendX":725,"legendY":10.5}},
"shape":{"field":"s","type":"nominal","scale":{"domain":["0.0","0.1","0.2","0.3","0.4","0.5","0.6","0.7","0.8","0.9","1.0"],"range":["square","circle","triangle-up","triangle-down","diamond","triangle-left","triangle-right","M1,0L0.5,0.866L-0.5,0.866L-1,0L-0.5,-0.866L0.5,-0.866Z","M0,-1L0.2234,-0.3074L0.9511,-0.309L0.3614,0.1174L0.5878,0.809L0,0.38L-0.5878,0.809L-0.3614,0.1174L-0.9511,-0.309L-0.2234,-0.3074Z","M0,-1L0.9511,-0.309L0.5878,0.809L-0.5878,0.809L-0.9511,-0.309Z","circle"]},"legend":{"title":null,"orient":"none","legendX":725,"legendY":10.5}}}},
{"data":{"values":[{}]},"mark":{"type":"text","text":"[a] 293.15K","align":"left","baseline":"alphabetic","font":"DejaVu Sans","fontSize":28,"fontWeight":"bold","color":"black"},
"encoding":{"x":{"datum":-0.0027,"type":"quantitative"},"y":{"datum":0.0499,"type":"quantitative"}}}
]},
{"width":789,"height":412,"data":{"name":"b"},
"layer":[
{"transform":[{"filter":"datum.s != '0.0' && datum.s != '0.1'"}],
"mark":{"type":"line","strokeWidth":12,"strokeCap":"round","strokeJoin":"round","interpolate":"monotone"},
"encoding":{"x":{"field":"x","type":"quantitative","scale":{"domain":[-0.0049,0.1293],"nice":false,"zero":false},"axis":null},
"y":{"field":"y","type":"quantitative","scale":{"domain":[-0.0025,0.0579],"nice":false,"zero":false},"axis":{"title":"M''(f)","titleFontSize":34,"titleX":-119,"titleY":146,"titleAlign":"center","titleBaseline":"alphabetic","titleAngle":270,"values":[0,0.005,0.01,0.015,0.02,0.025,0.03,0.035,0.04,0.045,0.05,0.055],"labelExpr":"round(datum.value*1000)%10==0 ? format(datum.value,'.2f') : ''","tickSize":{"condition":{"test":"round(datum.value*1000)%10==0","value":16},"value":8},"labelPadding":11}},
"stroke":{"field":"s","type":"nominal","legend":null,"scale":{"domain":["0.2","0.3","0.4","0.5","0.6","0.7","0.8","0.9","1.0"],"range":["#00ff00","#0000ff","#00ffff","#ff00ff","#ffff00","#808000","#000080","#800080","#800000"]}}}},
{"mark":{"type":"point","filled":true,"size":170,"opacity":1,"strokeWidth":0},
"encoding":{"x":{"field":"x","type":"quantitative"},"y":{"field":"y","type":"quantitative"},
"color":{"field":"s","type":"nominal","scale":{"domain":["0.0","0.1","0.2","0.3","0.4","0.5","0.6","0.7","0.8","0.9","1.0"],"range":["#000000","#ff0000","#00ff00","#0000ff","#00ffff","#ff00ff","#ffff00","#808000","#000080","#800080","#800000"]},"legend":{"title":null,"orient":"none","legendX":725,"legendY":14.5}},
"shape":{"field":"s","type":"nominal","scale":{"domain":["0.0","0.1","0.2","0.3","0.4","0.5","0.6","0.7","0.8","0.9","1.0"],"range":["square","circle","triangle-up","triangle-down","diamond","triangle-left","triangle-right","M1,0L0.5,0.866L-0.5,0.866L-1,0L-0.5,-0.866L0.5,-0.866Z","M0,-1L0.2234,-0.3074L0.9511,-0.309L0.3614,0.1174L0.5878,0.809L0,0.38L-0.5878,0.809L-0.3614,0.1174L-0.9511,-0.309L-0.2234,-0.3074Z","M0,-1L0.9511,-0.309L0.5878,0.809L-0.5878,0.809L-0.9511,-0.309Z","circle"]},"legend":{"title":null,"orient":"none","legendX":725,"legendY":14.5}}}},
{"data":{"values":[{}]},"mark":{"type":"text","text":"[b] 303.15K","align":"left","baseline":"alphabetic","font":"DejaVu Sans","fontSize":28,"fontWeight":"bold","color":"black"},
"encoding":{"x":{"datum":-0.0027,"type":"quantitative"},"y":{"datum":0.0507,"type":"quantitative"}}}
]},
{"width":789,"height":412,"data":{"name":"c"},
"layer":[
{"transform":[{"filter":"datum.s != '0.0' && datum.s != '0.1'"}],
"mark":{"type":"line","strokeWidth":12,"strokeCap":"round","strokeJoin":"round","interpolate":"monotone"},
"encoding":{"x":{"field":"x","type":"quantitative","scale":{"domain":[-0.0049,0.1293],"nice":false,"zero":false},"axis":{"title":"M'(f)","titleFontSize":36,"titleX":357,"titleY":105,"titleAlign":"center","titleBaseline":"alphabetic","values":[0,0.01,0.02,0.03,0.04,0.05,0.06,0.07,0.08,0.09,0.1,0.11,0.12],"labelExpr":"round(datum.value*100)%2==0 ? format(datum.value,'.2f') : ''","tickSize":{"condition":{"test":"round(datum.value*100)%2==0","value":14},"value":7},"labelPadding":14}},
"y":{"field":"y","type":"quantitative","scale":{"domain":[-0.0024,0.0591],"nice":false,"zero":false},"axis":{"title":null,"values":[0,0.005,0.01,0.015,0.02,0.025,0.03,0.035,0.04,0.045,0.05,0.055],"labelExpr":"round(datum.value*1000)%10==0 ? format(datum.value,'.2f') : ''","tickSize":{"condition":{"test":"round(datum.value*1000)%10==0","value":16},"value":8},"labelPadding":11}},
"stroke":{"field":"s","type":"nominal","legend":null,"scale":{"domain":["0.2","0.3","0.4","0.5","0.6","0.7","0.8","0.9","1.0"],"range":["#00ff00","#0000ff","#00ffff","#ff00ff","#ffff00","#808000","#000080","#800080","#800000"]}}}},
{"mark":{"type":"point","filled":true,"size":170,"opacity":1,"strokeWidth":0},
"encoding":{"x":{"field":"x","type":"quantitative"},"y":{"field":"y","type":"quantitative"},
"color":{"field":"s","type":"nominal","scale":{"domain":["0.0","0.1","0.2","0.3","0.4","0.5","0.6","0.7","0.8","0.9","1.0"],"range":["#000000","#ff0000","#00ff00","#0000ff","#00ffff","#ff00ff","#ffff00","#808000","#000080","#800080","#800000"]},"legend":{"title":null,"orient":"none","legendX":725,"legendY":13.5}},
"shape":{"field":"s","type":"nominal","scale":{"domain":["0.0","0.1","0.2","0.3","0.4","0.5","0.6","0.7","0.8","0.9","1.0"],"range":["square","circle","triangle-up","triangle-down","diamond","triangle-left","triangle-right","M1,0L0.5,0.866L-0.5,0.866L-1,0L-0.5,-0.866L0.5,-0.866Z","M0,-1L0.2234,-0.3074L0.9511,-0.309L0.3614,0.1174L0.5878,0.809L0,0.38L-0.5878,0.809L-0.3614,0.1174L-0.9511,-0.309L-0.2234,-0.3074Z","M0,-1L0.9511,-0.309L0.5878,0.809L-0.5878,0.809L-0.9511,-0.309Z","circle"]},"legend":{"title":null,"orient":"none","legendX":725,"legendY":13.5}}}},
{"data":{"values":[{}]},"mark":{"type":"text","text":"[c] 313.15K","align":"left","baseline":"alphabetic","font":"DejaVu Sans","fontSize":28,"fontWeight":"bold","color":"black"},
"encoding":{"x":{"datum":-0.0027,"type":"quantitative"},"y":{"datum":0.0531,"type":"quantitative"}}}
]}
]
}
